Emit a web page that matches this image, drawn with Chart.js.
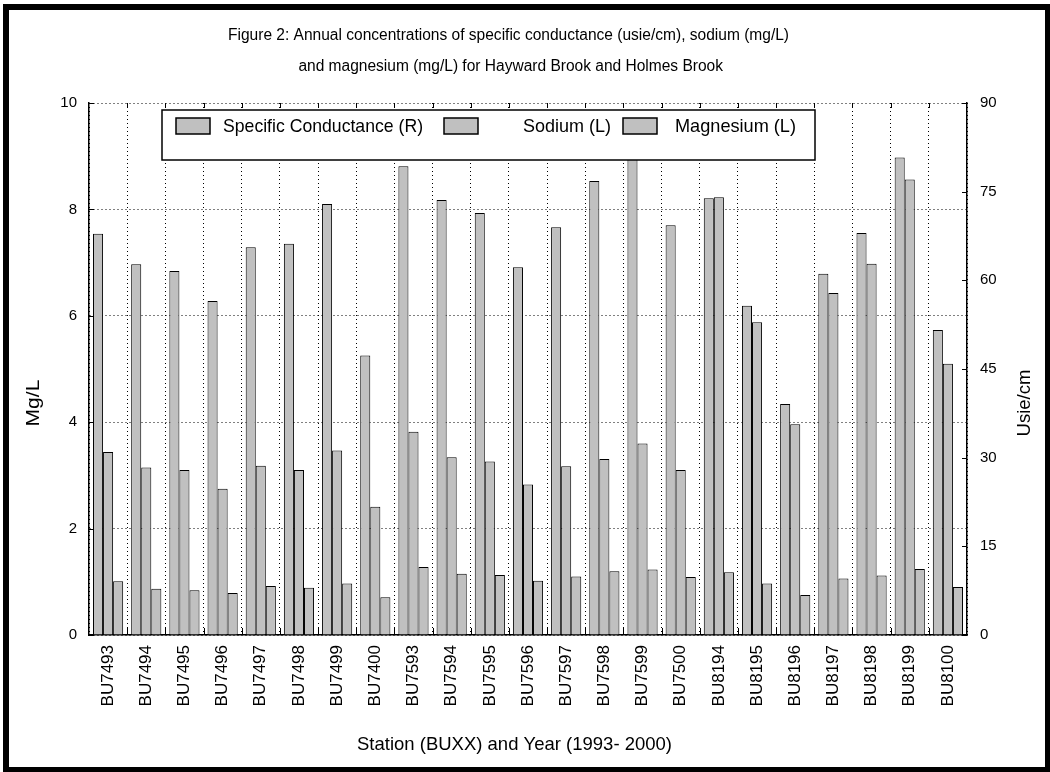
<!DOCTYPE html>
<html>
<head>
<meta charset="utf-8">
<title>Figure 2</title>
<script src="https://cdn.jsdelivr.net/npm/chart.js@4.4.0/dist/chart.umd.min.js"></script>
<style>
  html, body { margin: 0; padding: 0; background: #fff; }
  #wrap { position: relative; width: 1050px; height: 772px; overflow: hidden; }
  #myChart { position: absolute; left: 0; top: 0; }
  #frame {
    position: absolute; left: 3px; top: 4px; width: 1048px; height: 769px;
    border: 6px solid #000; box-sizing: border-box; pointer-events: none;
  }
</style>
</head>
<body>
<div id="wrap">
  <canvas id="myChart" width="1050" height="772"></canvas>
  <div id="frame"></div>
</div>
<script>
const stations = ["BU7493", "BU7494", "BU7495", "BU7496", "BU7497", "BU7498", "BU7499", "BU7400",
  "BU7593", "BU7594", "BU7595", "BU7596", "BU7597", "BU7598", "BU7599", "BU7500",
  "BU8194", "BU8195", "BU8196", "BU8197", "BU8198", "BU8199", "BU8100"];

// usie/cm, right axis
const conductance = [67.9, 62.7, 61.6, 56.5, 65.6, 66.2, 72.9, 47.3, 79.3, 73.6, 71.4, 62.2,
  69.0, 76.8, 82.0, 69.3, 73.9, 55.7, 39.1, 61.1, 68.0, 80.8, 51.6];
// mg/L, left axis
const sodium = [3.44, 3.15, 3.10, 2.75, 3.18, 3.10, 3.47, 2.41, 3.82, 3.34, 3.26, 2.83,
  3.17, 3.31, 3.60, 3.10, 8.23, 5.88, 3.96, 6.43, 6.98, 8.56, 5.10];
const magnesium = [1.01, 0.87, 0.84, 0.79, 0.92, 0.89, 0.97, 0.71, 1.28, 1.15, 1.13, 1.02,
  1.10, 1.20, 1.23, 1.09, 1.18, 0.97, 0.75, 1.06, 1.12, 1.24, 0.90];

const leftTicks = [0, 2, 4, 6, 8, 10];
const rightTicks = [0, 15, 30, 45, 60, 75, 90];

const titleLines = [
  "Figure 2: Annual concentrations of specific conductance (usie/cm), sodium (mg/L)",
  "and magnesium (mg/L) for Hayward Brook and Holmes Brook"
];

const FONT = "'Liberation Sans', Arial, sans-serif";
const BAR_GREY = "#c0c0c0";

// draws text squeezed/stretched to an exact width (the scan is narrow)
function fitText(ctx, text, x, y, width, size, rotate) {
  ctx.save();
  ctx.font = size + "px " + FONT;
  const w = ctx.measureText(text).width;
  ctx.translate(x, y);
  if (rotate) ctx.rotate(rotate);
  ctx.scale(width / w, 1);
  ctx.textAlign = "center";
  ctx.textBaseline = "middle";
  ctx.fillStyle = "#000";
  ctx.fillText(text, 0, 0);
  ctx.restore();
}

const decorations = {
  id: "decorations",
  afterDatasetsDraw(chart) {
    const ctx = chart.ctx;
    const area = chart.chartArea;
    const x = chart.scales.x;
    const yL = chart.scales.y;
    const yR = chart.scales.y1;

    // short inside ticks
    ctx.save();
    ctx.strokeStyle = "#000";
    ctx.lineWidth = 1;
    ctx.beginPath();
    leftTicks.forEach(v => {
      const p = Math.round(yL.getPixelForValue(v)) + 0.5;
      ctx.moveTo(area.left, p); ctx.lineTo(area.left + 5, p);
    });
    rightTicks.forEach(v => {
      const p = Math.round(yR.getPixelForValue(v)) + 0.5;
      ctx.moveTo(area.right, p); ctx.lineTo(area.right - 5, p);
    });
    const half = (x.getPixelForValue(1) - x.getPixelForValue(0)) / 2;
    for (let i = 1; i < stations.length; i++) {
      const p = Math.round(x.getPixelForValue(i) - half) + 0.5;
      ctx.moveTo(p, area.top); ctx.lineTo(p, area.top + 5);
      ctx.moveTo(p, area.bottom); ctx.lineTo(p, area.bottom - 7);
    }
    ctx.stroke();
    ctx.restore();
  },
  afterDraw(chart) {
    const ctx = chart.ctx;

    // legend box
    ctx.save();
    ctx.fillStyle = "#fff";
    ctx.strokeStyle = "#000";
    ctx.lineWidth = 1.5;
    ctx.fillRect(162, 110, 653, 50);
    ctx.strokeRect(162, 110, 653, 50);
    const swatches = [176, 444, 623];
    const labelBoxes = [[223, 200], [523, 88], [675, 121]];
    chart.data.datasets.forEach((ds, i) => {
      ctx.fillStyle = ds.backgroundColor;
      ctx.fillRect(swatches[i], 118, 34, 16);
      ctx.strokeRect(swatches[i], 118, 34, 16);
      fitText(ctx, ds.label, labelBoxes[i][0] + labelBoxes[i][1] / 2, 127, labelBoxes[i][1], 19);
    });
    ctx.restore();

    // title, squeezed like the original scan
    ctx.save();
    ctx.font = "16px " + FONT;
    const f = 561 / ctx.measureText(titleLines[0]).width;
    const w2 = ctx.measureText(titleLines[1]).width * f;
    ctx.restore();
    fitText(ctx, titleLines[0], 508.5, 36, 561, 16);
    fitText(ctx, titleLines[1], 723 - w2 / 2, 67, w2, 16);

    // axis titles
    fitText(ctx, "Mg/L", 33.5, 403, 47, 19, -Math.PI / 2);
    fitText(ctx, "Usie/cm", 1024.5, 403, 67, 19, -Math.PI / 2);
    fitText(ctx, "Station (BUXX) and Year (1993- 2000)", 514.5, 745, 315, 19);
  }
};

function renderChart() {
  const ctx = document.getElementById("myChart").getContext("2d");

  new Chart(ctx, {
    type: "bar",
    data: {
      labels: stations,
      datasets: [
        { label: "Specific Conductance (R)", data: conductance, yAxisID: "y1" },
        { label: "Sodium (L)", data: sodium, yAxisID: "y" },
        { label: "Magnesium (L)", data: magnesium, yAxisID: "y" }
      ].map(ds => Object.assign(ds, {
        backgroundColor: BAR_GREY,
        borderColor: "#000",
        borderWidth: 1,
        categoryPercentage: 0.79,
        barPercentage: 1.0
      }))
    },
    options: {
      responsive: false,
      animation: false,
      devicePixelRatio: 1,
      layout: { padding: { top: 103, left: 0, right: 0, bottom: 0 } },
      plugins: {
        legend: { display: false },
        title: { display: false },
        tooltip: { enabled: false }
      },
      scales: {
        x: {
          type: "category",
          offset: true,
          grid: { offset: true, color: "#000", lineWidth: 1, drawTicks: false },
          border: { display: true, color: "#000", width: 1.5, dash: [1, 3] },
          ticks: {
            autoSkip: false, minRotation: 90, maxRotation: 90, padding: 10,
            color: "#000", font: { family: FONT, size: 17 }
          },
          afterFit: scale => { scale.height = 137; }
        },
        y: {
          position: "left",
          min: 0, max: 10,
          grid: { color: "#000", lineWidth: 1, drawTicks: false },
          border: { display: true, color: "#000", width: 1.5, dash: [1, 3] },
          ticks: {
            stepSize: 2, padding: 12,
            color: "#000", font: { family: FONT, size: 15 }
          },
          afterFit: scale => { scale.width = 89; }
        },
        y1: {
          position: "right",
          min: 0, max: 90,
          grid: { drawOnChartArea: false, drawTicks: false },
          border: { display: true, color: "#000", width: 1.5 },
          ticks: {
            stepSize: 15, padding: 13,
            color: "#000", font: { family: FONT, size: 15 }
          },
          afterFit: scale => { scale.width = 83; }
        }
      }
    },
    plugins: [decorations]
  });
}

renderChart();
</script>
</body>
</html>
